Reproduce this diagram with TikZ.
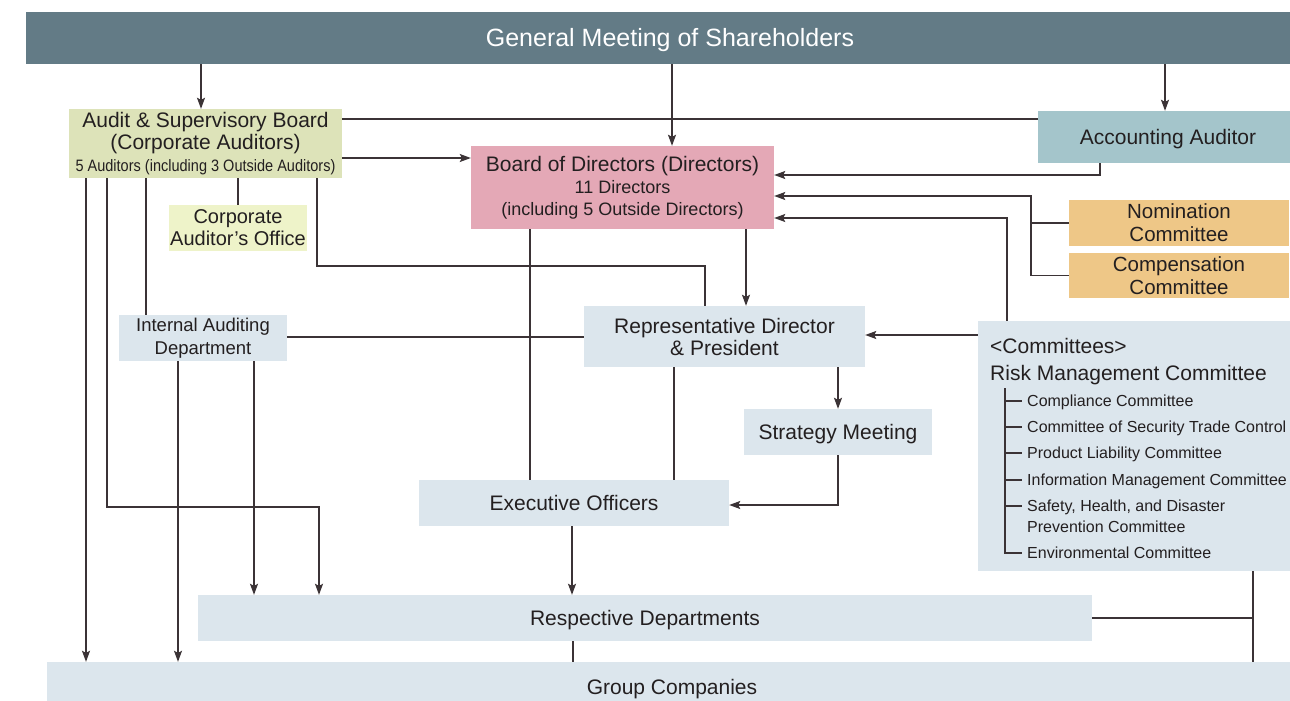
\documentclass[tikz,border=0pt]{standalone}
\usepackage{fontspec}
\setmainfont{Liberation Sans}
\usepackage{graphicx}
\usetikzlibrary{arrows.meta}
\definecolor{gmscol}{HTML}{637B86}
\definecolor{asbcol}{HTML}{DDE3B9}
\definecolor{caocol}{HTML}{EEF3C9}
\definecolor{bodcol}{HTML}{E4A8B6}
\definecolor{aacol}{HTML}{A4C5CB}
\definecolor{nomcol}{HTML}{EEC787}
\definecolor{lb}{HTML}{DCE6ED}
\definecolor{ln}{HTML}{3B3336}
\definecolor{txt}{HTML}{231F20}
\begin{document}
\begin{tikzpicture}[x=1pt,y=-1pt,
  box/.style={inner sep=0pt, align=center, text=txt, font=\fontsize{21}{22}\selectfont},
  one/.style={text height=#1, text depth=0pt},
  conn/.style={draw=ln, line width=1.3pt},
  arr/.style={conn, -{Stealth[length=11pt,width=8pt,inset=2pt]}},
  comtxt/.style={inner sep=0pt, anchor=base west, text=txt, font=\fontsize{21}{24}\selectfont},
  subtxt/.style={inner sep=0pt, anchor=base west, text=txt, font=\fontsize{16}{20}\selectfont},
]
\useasboundingbox (0,0) rectangle (1290,701);
\fill[white] (0,0) rectangle (1290,701);

% boxes
\node[box, one=18pt, fill=gmscol, text=white, font=\fontsize{25}{28}\selectfont, minimum width=1288pt, minimum height=52pt] (gms) at (670,38) {General Meeting of Shareholders};
\node[box, fill=asbcol, minimum width=273pt, minimum height=69pt] (asb) at (205.5,143.5) {Audit \& Supervisory Board\\(Corporate Auditors)\\{\fontsize{16.5}{22}\selectfont\scalebox{0.88}[1]{5 Auditors (including 3 Outside Auditors)}}};
\node[box, fill=caocol, font=\fontsize{20}{22}\selectfont, minimum width=138pt, minimum height=46pt] (cao) at (238,228) {Corporate\\Auditor’s Office};
\node[box, fill=bodcol, minimum width=303pt, minimum height=83pt] (bod) at (622.5,187.5) {Board of Directors (Directors)\\{\fontsize{18}{21.5}\selectfont 11 Directors}\\{\fontsize{18}{21.5}\selectfont (including 5 Outside Directors)}};
\node[box, one=15pt, fill=aacol, minimum width=260pt, minimum height=52pt] (aa) at (1168,137) {Accounting Auditor};
\node[box, fill=nomcol, font=\fontsize{20.5}{23}\selectfont, minimum width=220pt, minimum height=46pt] (nom) at (1179,223) {Nomination\\Committee};
\node[box, fill=nomcol, font=\fontsize{20.5}{23}\selectfont, minimum width=220pt, minimum height=45pt] (comp) at (1179,275.5) {Compensation\\Committee};
\node[box, fill=lb, font=\fontsize{18.5}{23}\selectfont, minimum width=168pt, minimum height=46pt] (iad) at (203,338) {Internal Auditing\\Department};
\node[box, fill=lb, minimum width=281pt, minimum height=61pt] (rep) at (724.5,336.5) {Representative Director\\\& President};
\node[box, one=15pt, fill=lb, minimum width=188pt, minimum height=46pt] (strat) at (838,432) {Strategy Meeting};
\node[box, one=15pt, fill=lb, minimum width=310pt, minimum height=46pt] (exec) at (574,503) {Executive Officers};
\node[box, one=15pt, fill=lb, minimum width=894pt, minimum height=46pt] (dept) at (645,618) {Respective Departments};
\node[box, one=15pt, fill=lb, minimum width=1250pt, minimum height=50pt] (grp) at (672,687) {Group Companies};
\node[box, fill=lb, minimum width=320pt, minimum height=250pt] (com) at (1138,446) {};

% committees content
\node[comtxt] (comh) at (990,353.5) {<Committees>};
\node[comtxt] (risk) at (990,380.5) {Risk Management Committee};
\node[subtxt] (s1) at (1027,406.8) {Compliance Committee};
\node[subtxt] (s2) at (1027,432.8) {Committee of Security Trade Control};
\node[subtxt] (s3) at (1027,458.8) {Product Liability Committee};
\node[subtxt] (s4) at (1027,485.8) {Information Management Committee};
\node[subtxt] (s5) at (1027,511.8) {Safety, Health, and Disaster};
\node[subtxt] (s5b) at (1027,532.8) {Prevention Committee};
\node[subtxt] (s6) at (1027,558.8) {Environmental Committee};
\draw[conn, line width=1.1pt] (1005,388) |- (1022,553);
\foreach \yy in {401,427,453,480,506} \draw[conn, line width=1.1pt] (1005,\yy) -- (1022,\yy);

% routing coordinates
\foreach \xx in {86,107,146,178,201,238,254,317,319,530,572,573,672,674,705,746,838,1007,1031,1100,1165,1253}
  \coordinate (c\xx) at (\xx,0);
\foreach \yy in {119,158,175,196,218,266,335,337,505,507}
  \coordinate (r\yy) at (0,\yy);

% connectors
\draw[arr] (gms.south -| c201) -- (asb.north -| c201);
\draw[arr] (gms.south -| c672) -- (bod.north -| c672);
\draw[arr] (gms.south -| c1165) -- (aa.north -| c1165);
\draw[conn] (asb.east |- r119) -- (aa.west |- r119);
\draw[arr] (asb.east |- r158) -- (bod.west |- r158);
\draw[arr] (aa.south -| c1100) |- (bod.east |- r175);
\draw[arr] (comp.west) -| (c1031 |- r196) -- (bod.east |- r196);
\draw[conn] (nom.west) -- (nom.west -| c1031);
\draw[arr] (com.north -| c1007) |- (bod.east |- r218);
\draw[arr] (com.west |- r335) -- (rep.east |- r335);
\draw[arr] (bod.south -| c746) -- (rep.north -| c746);
\draw[conn] (bod.south -| c530) -- (exec.north -| c530);
\draw[conn] (asb.south -| c317) |- (c705 |- r266) -- (rep.north -| c705);
\draw[conn] (asb.south -| c238) -- (cao.north -| c238);
\draw[conn] (asb.south -| c146) -- (iad.north -| c146);
\draw[arr] (asb.south -| c86) -- (grp.north -| c86);
\draw[arr] (asb.south -| c107) |- (c319 |- r507) -- (dept.north -| c319);
\draw[arr] (iad.south -| c178) -- (grp.north -| c178);
\draw[arr] (iad.south -| c254) -- (dept.north -| c254);
\draw[conn] (iad.east |- r337) -- (rep.west |- r337);
\draw[conn] (rep.south -| c674) -- (exec.north -| c674);
\draw[arr] (rep.south -| c838) -- (strat.north -| c838);
\draw[arr] (strat.south -| c838) |- (exec.east |- r505);
\draw[arr] (exec.south -| c572) -- (dept.north -| c572);
\draw[conn] (dept.south -| c573) -- (grp.north -| c573);
\draw[conn] (dept.east) -- (dept.east -| c1253);
\draw[conn] (com.south -| c1253) -- (grp.north -| c1253);
\end{tikzpicture}
\end{document}
